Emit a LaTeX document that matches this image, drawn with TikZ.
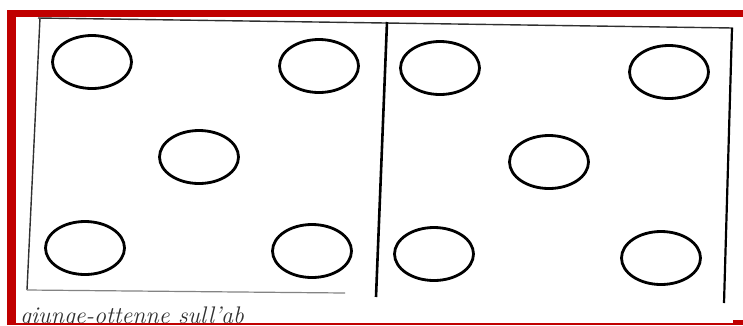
\documentclass[tikz,border=0pt]{standalone}
\usetikzlibrary{shapes.geometric}
\definecolor{framered}{HTML}{C00000}
\definecolor{inkgray}{HTML}{303030}
\begin{document}
\begin{tikzpicture}[x=1pt,y=-1pt,
  spot/.style={ellipse,draw=black,line width=2.8pt,minimum width=79pt,minimum height=53pt,inner sep=0pt},
  edgeline/.style={draw=inkgray,line width=1.4pt},
  heavyline/.style={draw=black,line width=2.6pt}]
\useasboundingbox (0,0) rectangle (743,325);
\fill[white] (0,0) rectangle (743,325);
% panel outlines
\coordinate (tl) at (38,18);
\coordinate (tr) at (733,28);
\coordinate (lb) at (27,290);
\coordinate (bb) at (345,293);
\coordinate (dt) at (387,22);
\coordinate (db) at (376,297);
\coordinate (rt) at (732,28);
\coordinate (rb) at (724,303);
\draw[edgeline] (tl) -- (tr);
\draw[edgeline] (40,18) -- (lb);
\draw[draw=inkgray!60,line width=1.2pt] (lb) -- (bb);
\draw[heavyline] (dt) -- (db);
\draw[draw=black,line width=2.2pt] (rt) -- (rb);
% left panel spots
\node[spot] (a1) at (92,62) {};
\node[spot] (a2) at (319,66) {};
\node[spot] (a3) at (199,157) {};
\node[spot] (a4) at (85,248) {};
\node[spot] (a5) at (312,251) {};
% right panel spots
\node[spot] (b1) at (440,68) {};
\node[spot] (b2) at (669,72) {};
\node[spot] (b3) at (549,162) {};
\node[spot] (b4) at (434,254) {};
\node[spot] (b5) at (661,258) {};
% cut-off caption
\begin{scope}
\clip (16,300) rectangle (743,322.5);
\node[anchor=base west,inner sep=0pt,text=inkgray,font=\itshape\fontsize{24}{24}\selectfont] (cap) at (20,323) {giunge-ottenne sull'ab};
\end{scope}
% red frame
\fill[framered] (7,10) rectangle (743,17);
\fill[framered] (7,10) rectangle (16,325);
\fill[framered] (16,322.5) rectangle (743,325);
\fill[framered] (733,320) rectangle (743,325);
\end{tikzpicture}
\end{document}
